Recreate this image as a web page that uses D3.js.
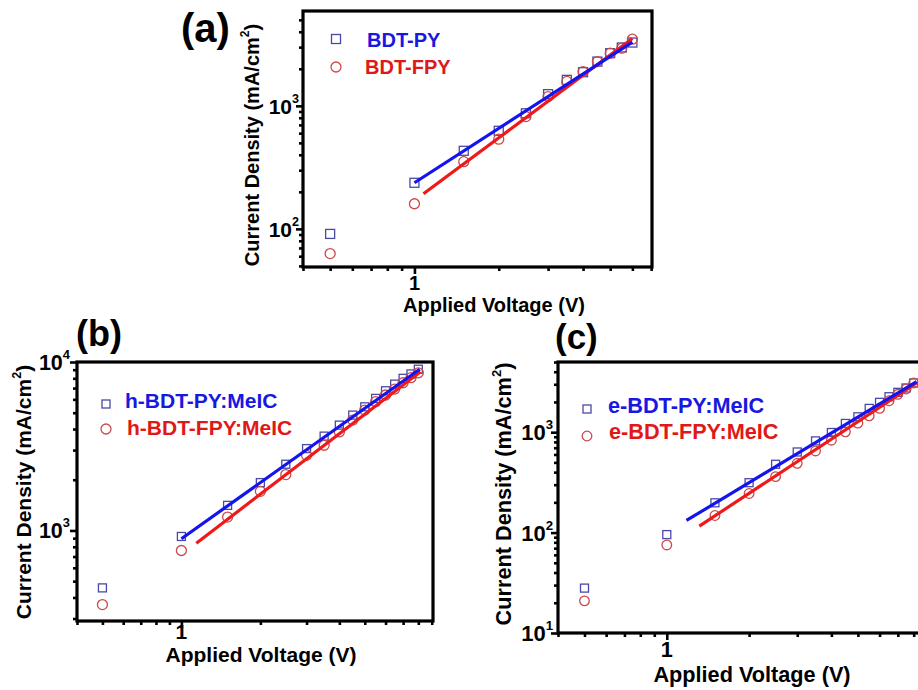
<!DOCTYPE html>
<html>
<head>
<meta charset="utf-8">
<script src="https://cdn.jsdelivr.net/npm/d3@7"></script>
<style>
  html, body { margin: 0; padding: 0; background: #fff; }
  svg { display: block; }
</style>
</head>
<body>
<svg id="chart" width="918" height="690"></svg>
<script>
// ---------------- DATA ----------------
// Panel (a)
const voltageA = [0.5, 1, 1.5, 2, 2.5, 3, 3.5, 4, 4.5, 5, 5.5, 6];
const bdtPY   = [91, 237, 431, 627, 870, 1245, 1626, 1878, 2290, 2680, 2980, 3270];
const bdtFPY  = [63, 160, 352, 536, 818, 1190, 1580, 1900, 2290, 2680, 2940, 3480];
const fitA_PY  = [[1, 237], [6, 3300]];
const fitA_FPY = [[1.077, 193], [6, 3530]];

// Panels (b) and (c)
const voltageBC = [0.5, 1, 1.5, 2, 2.5, 3, 3.5, 4, 4.5, 5, 5.5, 6, 6.5, 7, 7.5, 8];
const hBdtPY  = [456, 921, 1409, 1923, 2472, 3061, 3630, 4220, 4840, 5420, 6080, 6750, 7390, 8000, 8490, 9060];
const hBdtFPY = [363, 760, 1200, 1706, 2145, 2793, 3204, 3846, 4520, 5180, 5810, 6370, 6910, 7530, 8070, 8630];
const fitB_PY  = [[1, 893], [8.1, 9060]];
const fitB_FPY = [[1.14, 840], [8.15, 8750]];

const eBdtPY  = [28, 95.5, 198, 314, 479, 635, 819, 993, 1222, 1423, 1725, 1982, 2255, 2494, 2754, 3090];
const eBdtFPY = [20.9, 75.3, 148, 245, 361, 490, 650, 832, 1008, 1230, 1456, 1725, 2056, 2383, 2692, 3090];
const fitC_PY  = [[1.18, 132], [8.2, 3180]];
const fitC_FPY = [[1.315, 116], [8.2, 3090]];

// Tick values
const xMinorA  = [0.4, 0.5, 0.6, 0.7, 0.8, 0.9, 2, 3, 4, 5, 6, 7];
const xMinorBC = [0.4, 0.5, 0.6, 0.7, 0.8, 0.9, 2, 3, 4, 5, 6, 7, 8, 9];
const xMajor   = [1];
const xTickLabels = ["1"];
const yMinorA = [50, 60, 70, 80, 90, 200, 300, 400, 500, 600, 700, 800, 900, 2000, 3000, 4000, 5000];
const yMajorA = [100, 1000];
const yLabelsA = [["10", "2"], ["10", "3"]];
const yMinorB = [300, 400, 500, 600, 700, 800, 900, 2000, 3000, 4000, 5000, 6000, 7000, 8000, 9000];
const yMajorB = [1000, 10000];
const yLabelsB = [["10", "3"], ["10", "4"]];
const yMinorC = [20, 30, 40, 50, 60, 70, 80, 90, 200, 300, 400, 500, 600, 700, 800, 900, 2000, 3000, 4000, 5000];
const yMajorC = [10, 100, 1000];
const yLabelsC = [["10", "1"], ["10", "2"], ["10", "3"]];

const legendA = ["BDT-PY", "BDT-FPY"];
const legendB = ["h-BDT-PY:MeIC", "h-BDT-FPY:MeIC"];
const legendC = ["e-BDT-PY:MeIC", "e-BDT-FPY:MeIC"];
const panelLabels = ["(a)", "(b)", "(c)"];
const xTitle = "Applied Voltage (V)";
const yTitleMain = "Current Density (mA/cm";
const yTitleSup = "2";
const yTitleEnd = ")";

// ---------------- STYLE ----------------
const FONT = "'Liberation Sans', Arial, Helvetica, sans-serif";
const C = {
  sqStroke: "#4a4aa6", ciStroke: "#c94a4a",
  lineBlue: "#1414ee", lineRed: "#ee1a1a",
  textBlue: "#1818e0", textRed: "#e01818"
};

const panels = [
  {
    label: panelLabels[0], labelPos: [181, 42], labelSize: 40,
    frame: {x0: 303, x1: 652, y0: 11, y1: 267},
    xDom: [0.4, 7.05], yDom: [49, 5900],
    v: voltageA, s1: bdtPY, s2: bdtFPY, f1: fitA_PY, f2: fitA_FPY,
    xMinor: xMinorA, yMinor: yMinorA, yMajor: yMajorA, yLabels: yLabelsA,
    legend: legendA, leg: {mx: 336, my1: 39, my2: 67, tx1: 367, ty1: 47, tx2: 365, ty2: 74},
    fs: 20, tfs: 21, sq: 9, r: 5,
    xTickBase: 290, xTitleX: 494, xTitleBase: 312, yTitle: [259, 145], yLabGap: 4
  },
  {
    label: panelLabels[1], labelPos: [76, 346], labelSize: 36,
    frame: {x0: 77, x1: 433, y0: 362, y1: 621},
    xDom: [0.4, 9.1], yDom: [290, 10000],
    v: voltageBC, s1: hBdtPY, s2: hBdtFPY, f1: fitB_PY, f2: fitB_FPY,
    xMinor: xMinorBC, yMinor: yMinorB, yMajor: yMajorB, yLabels: yLabelsB,
    legend: legendB, leg: {mx: 106, my1: 404, my2: 429, tx1: 125, ty1: 408, tx2: 127, ty2: 435},
    fs: 21, tfs: 21.5, sq: 8, r: 5,
    xTickBase: 639, xTitleX: 261, xTitleBase: 662, yTitle: [31, 492], yLabGap: 7
  },
  {
    label: panelLabels[2], labelPos: [555, 349], labelSize: 35,
    frame: {x0: 558, x1: 929, y0: 362, y1: 633},
    xDom: [0.4, 9.1], yDom: [10, 5000],
    v: voltageBC, s1: eBdtPY, s2: eBdtFPY, f1: fitC_PY, f2: fitC_FPY,
    xMinor: xMinorBC, yMinor: yMinorC, yMajor: yMajorC, yLabels: yLabelsC,
    legend: legendC, leg: {mx: 587, my1: 409, my2: 436, tx1: 608, ty1: 412.5, tx2: 609, ty2: 439},
    fs: 21.7, tfs: 22, sq: 8, r: 4.8,
    xTickBase: 657, xTitleX: 752, xTitleBase: 682, yTitle: [511, 494], yLabGap: 5
  }
];

const svg = d3.select("#chart");

panels.forEach(p => {
  const g = svg.append("g");
  const F = p.frame;
  const x = d3.scaleLog().domain(p.xDom).range([F.x0, F.x1]);
  const y = d3.scaleLog().domain(p.yDom).range([F.y1, F.y0]);

  // axes ticks (outward)
  const axX = (vals, size) => g.append("g")
    .attr("transform", `translate(0,${F.y1})`)
    .call(d3.axisBottom(x).tickValues(vals).tickSize(size).tickFormat(""))
    .call(a => a.select(".domain").remove())
    .call(a => a.selectAll("line").attr("stroke", "#000").attr("stroke-width", 2.6));
  const axY = (vals, size) => g.append("g")
    .attr("transform", `translate(${F.x0},0)`)
    .call(d3.axisLeft(y).tickValues(vals).tickSize(size).tickFormat(""))
    .call(a => a.select(".domain").remove())
    .call(a => a.selectAll("line").attr("stroke", "#000").attr("stroke-width", 2.6));
  axX(p.xMinor.filter(d => d >= p.xDom[0] && d <= p.xDom[1]), 4);
  axX(xMajor, 7);
  axY(p.yMinor, 4);
  axY(p.yMajor, 7);

  // frame
  g.append("rect")
    .attr("x", F.x0).attr("y", F.y0)
    .attr("width", F.x1 - F.x0).attr("height", F.y1 - F.y0)
    .attr("fill", "none").attr("stroke", "#000").attr("stroke-width", 3.2);

  // x tick labels
  g.selectAll(".xtl").data(xMajor).enter().append("text")
    .attr("x", d => x(d)).attr("y", p.xTickBase)
    .attr("text-anchor", "middle")
    .attr("font-family", FONT).attr("font-weight", "bold").attr("font-size", p.fs)
    .text((d, i) => xTickLabels[i]);

  // y tick labels with superscripts
  p.yMajor.forEach((d, i) => {
    const t = g.append("text")
      .attr("x", F.x0 - p.yLabGap).attr("y", y(d) + 8)
      .attr("text-anchor", "end")
      .attr("font-family", FONT).attr("font-weight", "bold").attr("font-size", p.tfs);
    t.append("tspan").text(p.yLabels[i][0]);
    t.append("tspan").attr("dy", -11).attr("font-size", p.tfs * 0.6).text(p.yLabels[i][1]);
  });

  // axis titles
  g.append("text")
    .attr("x", p.xTitleX).attr("y", p.xTitleBase)
    .attr("text-anchor", "middle")
    .attr("font-family", FONT).attr("font-weight", "bold").attr("font-size", p.fs)
    .text(xTitle);
  const yt = g.append("text")
    .attr("transform", `translate(${p.yTitle[0]},${p.yTitle[1]}) rotate(-90)`)
    .attr("text-anchor", "middle")
    .attr("font-family", FONT).attr("font-weight", "bold").attr("font-size", p.fs);
  yt.append("tspan").text(yTitleMain);
  yt.append("tspan").attr("dy", -10).attr("font-size", p.fs * 0.6).text(yTitleSup);
  yt.append("tspan").attr("dy", 10).text(yTitleEnd);

  // panel label
  g.append("text")
    .attr("x", p.labelPos[0]).attr("y", p.labelPos[1])
    .attr("font-family", FONT).attr("font-weight", "bold").attr("font-size", p.labelSize)
    .text(p.label);

  // markers
  g.selectAll(".sq").data(p.v.map((v, i) => [v, p.s1[i]])).enter().append("rect")
    .attr("x", d => x(d[0]) - p.sq / 2).attr("y", d => y(d[1]) - p.sq / 2)
    .attr("width", p.sq).attr("height", p.sq)
    .attr("fill", "none").attr("stroke", C.sqStroke).attr("stroke-width", 1.3);
  g.selectAll(".ci").data(p.v.map((v, i) => [v, p.s2[i]])).enter().append("circle")
    .attr("cx", d => x(d[0])).attr("cy", d => y(d[1])).attr("r", p.r)
    .attr("fill", "none").attr("stroke", C.ciStroke).attr("stroke-width", 1.3);

  // fit lines
  const line = d3.line().x(d => x(d[0])).y(d => y(d[1]));
  g.append("path").datum(p.f2).attr("d", line)
    .attr("fill", "none").attr("stroke", C.lineRed).attr("stroke-width", 3.2);
  g.append("path").datum(p.f1).attr("d", line)
    .attr("fill", "none").attr("stroke", C.lineBlue).attr("stroke-width", 3.2);

  // legend
  const L = p.leg;
  g.append("rect")
    .attr("x", L.mx - p.sq / 2).attr("y", L.my1 - p.sq / 2)
    .attr("width", p.sq).attr("height", p.sq)
    .attr("fill", "none").attr("stroke", C.sqStroke).attr("stroke-width", 1.3);
  g.append("circle")
    .attr("cx", L.mx).attr("cy", L.my2).attr("r", p.r)
    .attr("fill", "none").attr("stroke", C.ciStroke).attr("stroke-width", 1.3);
  g.append("text").attr("x", L.tx1).attr("y", L.ty1)
    .attr("font-family", FONT).attr("font-weight", "bold").attr("font-size", p.fs)
    .attr("fill", C.textBlue).text(p.legend[0]);
  g.append("text").attr("x", L.tx2).attr("y", L.ty2)
    .attr("font-family", FONT).attr("font-weight", "bold").attr("font-size", p.fs)
    .attr("fill", C.textRed).text(p.legend[1]);
});
</script>
</body>
</html>
